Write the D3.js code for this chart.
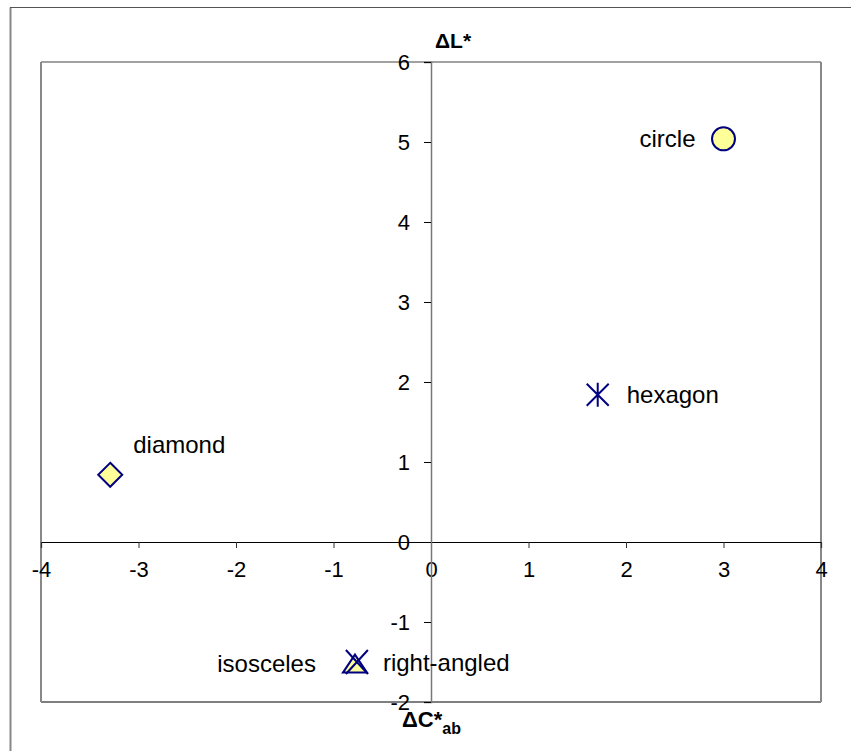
<!DOCTYPE html>
<html>
<head>
<meta charset="utf-8">
<script src="https://cdn.jsdelivr.net/npm/d3@7"></script>
<style>
  body { margin: 0; background: #fff; }
  text { font-family: Arial, "Liberation Sans", sans-serif; fill: #000; }
</style>
</head>
<body>
<svg id="chart" width="851" height="751"></svg>
<script>
// data
var names = ['circle', 'hexagon', 'diamond', 'isosceles', 'right-angled'];
var dC = [3.0, 1.71, -3.29, -0.78, -0.76];
var dL = [5.04, 1.84, 0.84, -1.52, -1.5];
var markers = ['circle', 'star', 'diamond', 'triangle', 'cross'];
var xTicks = [-4, -3, -2, -1, 0, 1, 2, 3, 4];
var yTicks = [-2, -1, 0, 1, 2, 3, 4, 5, 6];

// label placement relative to each marker
var labelDx = [-28, 29, 23, -39, 26];
var labelDy = [0, 0, -30, 0, 0];
var labelAnchor = ['end', 'start', 'start', 'end', 'start'];

var svg = d3.select('#chart');
var pLeft = 41, pRight = 821, pTop = 62, pBottom = 702;

var x = d3.scaleLinear().domain([-4, 4]).range([pLeft, pRight]);
var y = d3.scaleLinear().domain([-2, 6]).range([pBottom, pTop]);

// outer frame
svg.append('line').attr('x1', 10.5).attr('y1', 7.5).attr('x2', 10.5).attr('y2', 751)
   .attr('stroke', '#888').attr('stroke-width', 2);
svg.append('line').attr('x1', 10).attr('y1', 7.5).attr('x2', 851).attr('y2', 7.5)
   .attr('stroke', '#555').attr('stroke-width', 1);

// plot frame
svg.append('line').attr('x1', pLeft).attr('y1', pTop).attr('x2', pRight).attr('y2', pTop)
   .attr('stroke', '#444').attr('stroke-width', 1.2);
svg.append('line').attr('x1', pLeft).attr('y1', pBottom).attr('x2', pRight).attr('y2', pBottom)
   .attr('stroke', '#000').attr('stroke-width', 1.2);
svg.append('line').attr('x1', pLeft).attr('y1', pTop).attr('x2', pLeft).attr('y2', pBottom)
   .attr('stroke', '#888').attr('stroke-width', 2);
svg.append('line').attr('x1', pRight).attr('y1', pTop).attr('x2', pRight).attr('y2', pBottom)
   .attr('stroke', '#888').attr('stroke-width', 2);

function fmt(d) { return d < 0 ? '-' + Math.abs(d) : String(d); }

// x axis through y = 0
var xAxis = d3.axisBottom(x).tickValues(xTicks).tickSize(6).tickPadding(13).tickFormat(fmt);
var gx = svg.append('g').attr('transform', 'translate(0,' + y(0) + ')').call(xAxis);
gx.select('.domain').attr('stroke', '#000').attr('stroke-width', 1.2);
gx.selectAll('.tick line').attr('stroke', '#333');
gx.selectAll('text').style('font-size', '22px').attr('fill', '#000');

// y axis through x = 0
var yAxis = d3.axisLeft(y).tickValues(yTicks).tickSize(7).tickPadding(14).tickFormat(fmt);
var gy = svg.append('g').attr('transform', 'translate(' + x(0) + ',0)').call(yAxis);
gy.select('.domain').attr('stroke', '#777').attr('stroke-width', 1.5);
gy.selectAll('.tick line').attr('stroke', '#000');
gy.selectAll('text').style('font-size', '22px').attr('fill', '#000').attr('dy', '0.36em');

// axis titles
svg.append('text').attr('x', 435).attr('y', 48)
   .style('font-size', '21px').style('font-weight', 'bold').text('\u0394L*');
var ct = svg.append('text').attr('x', 402).attr('y', 727)
   .style('font-size', '22px').style('font-weight', 'bold');
ct.append('tspan').text('\u0394C*');
ct.append('tspan').attr('dy', 7).style('font-size', '16px').text('ab');

// markers
var stroke = '#000080', fill = '#ffff99';
var pts = names.map(function(n, i) {
  return { name: n, cx: x(dC[i]), cy: y(dL[i]), marker: markers[i],
           dx: labelDx[i], dy: labelDy[i], anchor: labelAnchor[i] };
});

var node = svg.selectAll('.pt').data(pts).enter().append('g')
   .attr('class', 'pt')
   .attr('transform', function(d) { return 'translate(' + d.cx + ',' + d.cy + ')'; });

node.each(function(d) {
  var g = d3.select(this);
  if (d.marker === 'circle') {
    g.append('circle').attr('r', 11.5).attr('fill', fill).attr('stroke', stroke).attr('stroke-width', 2);
  } else if (d.marker === 'diamond') {
    g.append('path').attr('d', 'M0,-12L12,0L0,12L-12,0Z')
     .attr('fill', fill).attr('stroke', stroke).attr('stroke-width', 2);
  } else if (d.marker === 'triangle') {
    g.append('path').attr('d', 'M0,-9L12,9L-12,9Z')
     .attr('fill', fill).attr('stroke', stroke).attr('stroke-width', 2);
  } else if (d.marker === 'star') {
    g.append('path').attr('d', 'M0,-12L0,12M-11,-11L11,11M-11,11L11,-11')
     .attr('stroke', stroke).attr('stroke-width', 2).attr('fill', 'none');
  } else if (d.marker === 'cross') {
    g.append('path').attr('d', 'M-11,-12L11,12M-11,12L11,-12')
     .attr('stroke', stroke).attr('stroke-width', 2).attr('fill', 'none');
  }
});

// point labels
node.append('text')
   .style('font-size', '24px')
   .attr('text-anchor', function(d) { return d.anchor; })
   .attr('x', function(d) { return d.dx; })
   .attr('y', function(d) { return d.dy; })
   .attr('dy', '0.36em')
   .text(function(d) { return d.name; });
</script>
</body>
</html>
